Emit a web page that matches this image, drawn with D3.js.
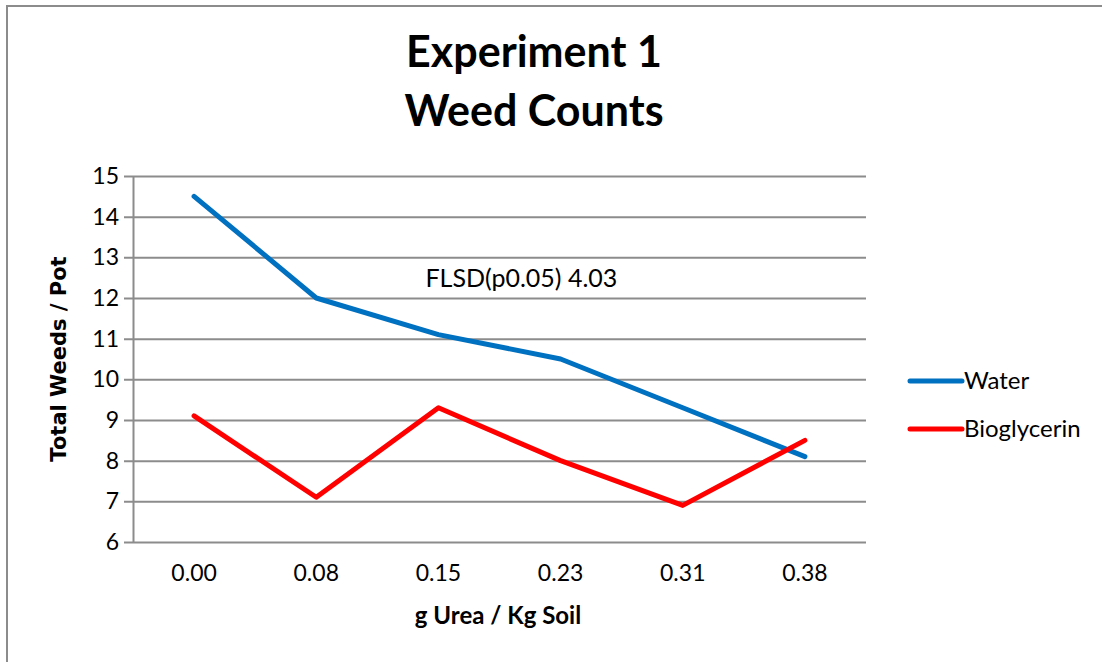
<!DOCTYPE html>
<html>
<head>
<meta charset="utf-8">
<script src="https://cdn.jsdelivr.net/npm/d3@7"></script>
<style>
  body { margin: 0; background: #fff; overflow: hidden; }
  svg { display: block; }
</style>
</head>
<body>
<div id="chart"></div>
<script>
// Chart data
const doses = ["0.00", "0.08", "0.15", "0.23", "0.31", "0.38"];
const water = [14.5, 12.0, 11.1, 10.5, 9.3, 8.1];
const bioglycerin = [9.1, 7.1, 9.3, 8.0, 6.9, 8.5];
const yTicks = [6, 7, 8, 9, 10, 11, 12, 13, 14, 15];
const seriesNames = ["Water", "Bioglycerin"];
const seriesColors = ["#0070C0", "#FF0000"];

const W = 1102, H = 662;
const margin = { top: 176, right: 236, bottom: 120, left: 133 };
const width = W - margin.left - margin.right;
const height = H - margin.top - margin.bottom;
const font = "Lato, 'Open Sans', sans-serif";

const svg = d3.select("#chart").append("svg")
    .attr("width", W)
    .attr("height", H);

// outer frame (only top and left edges fall inside the picture)
svg.append("path")
    .attr("d", `M7,${H + 5} V6 H${W + 5}`)
    .attr("fill", "none")
    .attr("stroke", "#8c8c8c")
    .attr("stroke-width", 2);

const g = svg.append("g")
    .attr("transform", `translate(${margin.left},${margin.top})`);

const x = d3.scaleBand().domain(doses).range([0, width]);
const y = d3.scaleLinear().domain([6, 15]).range([height, 0]);

// gridlines + y axis
const yAxis = g.append("g")
    .call(d3.axisLeft(y).tickValues(yTicks).tickSize(-width).tickPadding(14).tickSizeOuter(0));
yAxis.select(".domain").attr("stroke", "#8c8c8c").attr("stroke-width", 2);
yAxis.selectAll(".tick line")
    .attr("x1", -9)
    .attr("stroke", "#8c8c8c").attr("stroke-width", 2);
yAxis.selectAll(".tick text")
    .attr("font-family", font)
    .attr("font-size", 23)
    .attr("fill", "#000");

// x axis labels (bottom gridline doubles as axis line)
const xAxis = g.append("g")
    .attr("transform", `translate(0,${height})`)
    .call(d3.axisBottom(x).tickSize(0).tickPadding(23));
xAxis.select(".domain").remove();
xAxis.selectAll(".tick text")
    .attr("font-family", font)
    .attr("font-size", 23)
    .attr("fill", "#000");

// lines
const line = d3.line()
    .x((d, i) => x(doses[i]) + x.bandwidth() / 2)
    .y(d => y(d));

[water, bioglycerin].forEach((s, i) => {
    g.append("path")
        .datum(s)
        .attr("fill", "none")
        .attr("stroke", seriesColors[i])
        .attr("stroke-width", 5)
        .attr("stroke-linejoin", "round")
        .attr("stroke-linecap", "round")
        .attr("d", line);
});

// annotation
g.append("text")
    .attr("x", x("0.15") + x.bandwidth() / 2 - 13)
    .attr("y", y(12.5) + 9)
    .attr("font-family", font)
    .attr("font-size", 25)
    .text("FLSD(p0.05) 4.03");

// title
const title = svg.append("text")
    .attr("text-anchor", "middle")
    .attr("font-family", font)
    .attr("font-weight", "bold")
    .attr("font-size", 43);
title.append("tspan").attr("x", 534).attr("y", 67).text("Experiment 1");
title.append("tspan").attr("x", 534).attr("y", 126).text("Weed Counts");

// axis titles
svg.append("text")
    .attr("transform", `translate(66,359) rotate(-90)`)
    .attr("text-anchor", "middle")
    .attr("font-family", "'DejaVu Sans', Verdana, sans-serif")
    .attr("font-weight", "bold")
    .attr("font-size", 21)
    .text("Total Weeds / Pot");

svg.append("text")
    .attr("x", 498)
    .attr("y", 624)
    .attr("text-anchor", "middle")
    .attr("font-family", font)
    .attr("font-weight", "bold")
    .attr("font-size", 24)
    .text("g Urea / Kg Soil");

// legend
const legend = svg.append("g").attr("transform", "translate(908,381)");
seriesNames.forEach((n, i) => {
    const row = legend.append("g").attr("transform", `translate(0,${i * 48})`);
    row.append("line")
        .attr("x1", 2).attr("x2", 54)
        .attr("stroke", seriesColors[i])
        .attr("stroke-width", 5)
        .attr("stroke-linecap", "round");
    row.append("text")
        .attr("x", 56).attr("y", 8)
        .attr("font-family", font)
        .attr("font-size", 24)
        .text(n);
});
</script>
</body>
</html>
